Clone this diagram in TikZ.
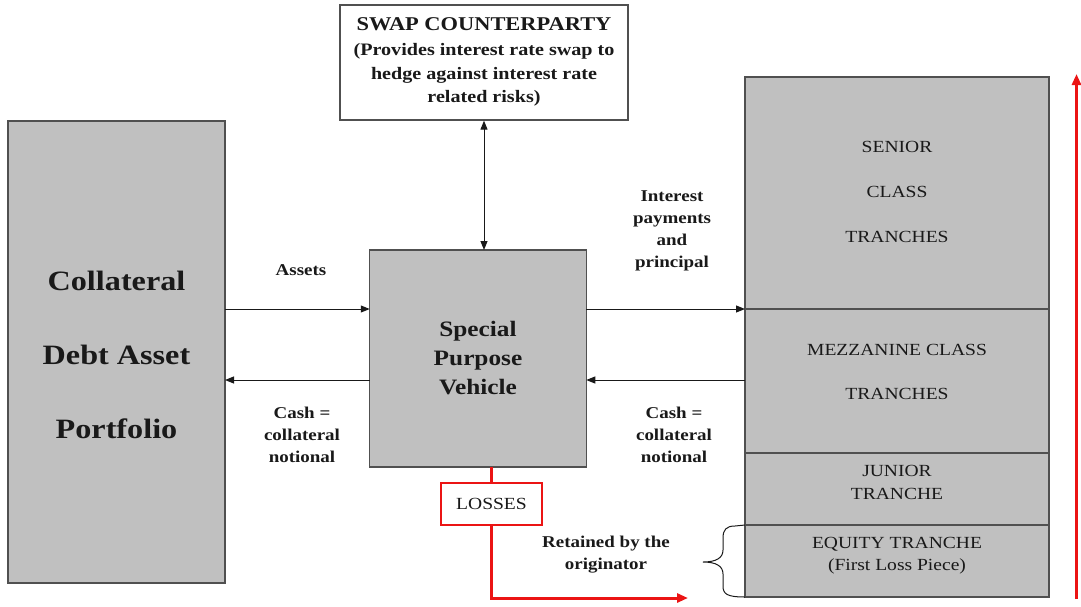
\documentclass[tikz,border=0pt]{standalone}
\usepackage{fontspec}
\setmainfont[FakeStretch=1.15]{Liberation Serif}
\usetikzlibrary{arrows.meta}
\definecolor{boxgray}{RGB}{192,192,192}
\definecolor{edgegray}{RGB}{80,80,80}
\definecolor{ink}{RGB}{25,25,25}
\definecolor{lossred}{RGB}{235,20,20}
\begin{document}
\begin{tikzpicture}[x=1pt,y=-1pt,
  graybox/.style={draw=edgegray,line width=1.6pt,fill=boxgray,inner sep=0pt,outer sep=0pt,text=ink,align=center},
  tranche/.style={graybox,line width=1.3pt,minimum width=304pt,font=\fontsize{17}{23}\selectfont},
  lbl/.style={text=ink,align=center,font=\bfseries\fontsize{16.5}{22}\selectfont},
  arr/.style={draw=ink,line width=1pt,-{Triangle[length=9pt,width=7pt]}},
  redarr/.style={draw=lossred,line width=3pt,-{Triangle[length=11pt,width=9pt]}}]
\useasboundingbox (0,0) rectangle (1081,606);
% boxes
\node[graybox,minimum width=217pt,minimum height=462pt] (coll) at (116.5,352) {};
\node[text=ink,align=center,font=\bfseries\fontsize{28}{74}\selectfont] (collt) at (116.5,355) {Collateral\\Debt Asset\\Portfolio};
\node[graybox,line width=1.3pt,minimum width=216.5pt,minimum height=217pt,font=\bfseries\fontsize{22}{29}\selectfont] (spv) at (478,358.5) {Special\\Purpose\\Vehicle};
\node[draw=edgegray,line width=1.3pt,fill=white,minimum width=288pt,minimum height=115pt,inner sep=0pt] (swap) at (484,62.5) {};
\node[text=ink,font=\bfseries\fontsize{19.5}{24}\selectfont] (swapt) at (484,24) {SWAP COUNTERPARTY};
\node[text=ink,align=center,font=\bfseries\fontsize{17.5}{23.5}\selectfont] (swaps) at (484,75) {(Provides interest rate swap to\\hedge against interest rate\\related risks)};
% tranches
\node[tranche,minimum height=232pt] (senior) at (897,193) {};
\node[text=ink,align=center,font=\fontsize{17}{45}\selectfont] (seniort) at (897,192) {SENIOR\\CLASS\\TRANCHES};
\node[tranche,minimum height=144pt] (mezz) at (897,381) {};
\node[text=ink,align=center,font=\fontsize{17}{44}\selectfont] (mezzt) at (897,372) {MEZZANINE CLASS\\TRANCHES};
\node[tranche,minimum height=72pt] (junior) at (897,489) {};
\node[text=ink,align=center,font=\fontsize{17}{23}\selectfont] (juniort) at (897,482) {JUNIOR\\TRANCHE};
\node[tranche,minimum height=72pt] (equity) at (897,561) {};
\node[text=ink,align=center,font=\fontsize{17}{22}\selectfont] (equityt) at (897,556) {EQUITY TRANCHE\\(First Loss Piece)};
% losses
\node[draw=lossred,line width=1.2pt,fill=white,minimum width=101pt,minimum height=42pt,inner sep=0pt,text=ink,font=\fontsize{17}{22}\selectfont] (loss) at (491.5,504) {LOSSES};
% labels
\node[lbl] (assets) at (301,270) {Assets};
\node[lbl] (cashl) at (302,435) {Cash =\\collateral\\notional};
\node[lbl] (intp) at (672,231) {Interest\\payments\\and\\principal};
\node[lbl] (cashr) at (674,435) {Cash =\\collateral\\notional};
\node[lbl] (ret) at (606,555) {Retained by the\\originator};
% connectors
\draw[arr] (coll.east |- senior.south) -- (spv.west |- senior.south);
\draw[arr] ([yshift=-21.5pt]spv.west) -- ([yshift=-21.5pt]spv.west -| coll.east);
\draw[arr] (spv.east |- senior.south) -- (senior.south west);
\draw[arr] ([yshift=-21.5pt]spv.east -| mezz.west) -- ([yshift=-21.5pt]spv.east);
\draw[draw=ink,line width=1pt,{Triangle[length=9pt,width=7pt]}-{Triangle[length=9pt,width=7pt]}] (swap.south) -- (spv.north -| swap.south);
% red losses path
\coordinate (lossend) at (688,598);
\draw[draw=lossred,line width=3pt] (spv.south -| loss.north) -- (loss.north);
\draw[redarr] (loss.south) -- (loss.south |- lossend) -- (lossend);
% red vertical arrow
\coordinate (rb) at (1076.5,599);
\coordinate (rt) at (1076.5,74);
\draw[redarr] (rb) -- (rt);
% brace
\draw[draw=ink,line width=1pt] (equity.north west) -- (735,526) .. controls (726,526) and (723,530) .. (723,538) -- (723,550) .. controls (723,558) and (716,562) .. (703,562) .. controls (716,562) and (723,566) .. (723,574) -- (723,586) .. controls (723,594) and (727,597) .. (equity.south west);
\end{tikzpicture}
\end{document}
